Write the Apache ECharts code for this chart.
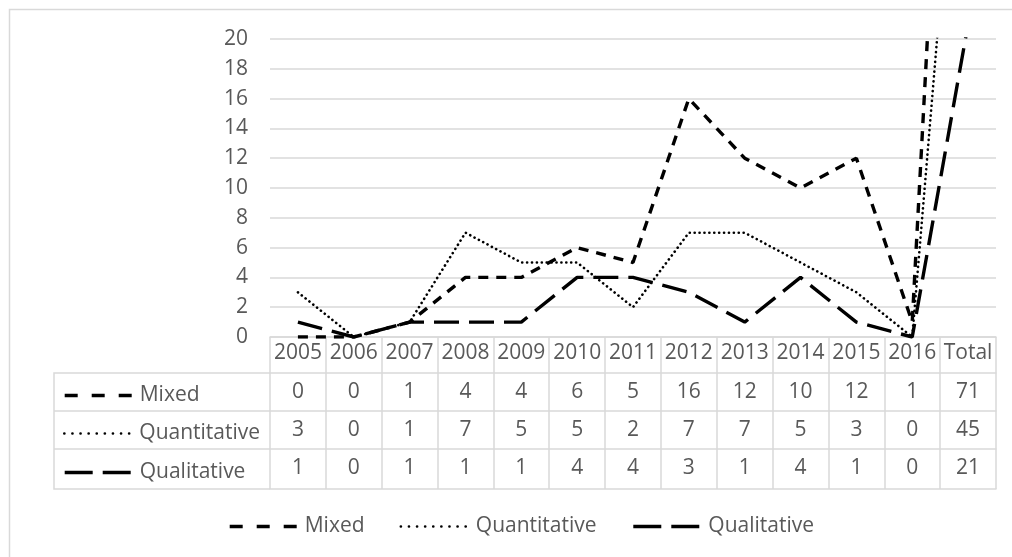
<!DOCTYPE html>
<html>
<head>
<meta charset="utf-8">
<script src="https://cdn.jsdelivr.net/npm/echarts@6/dist/echarts.min.js"></script>
<style>
html,body{margin:0;padding:0;background:#fff;}
#chart{width:1012px;height:557px;}
</style>
</head>
<body>
<div id="chart"></div>
<script>
const categories = ['2005','2006','2007','2008','2009','2010','2011','2012','2013','2014','2015','2016','Total'];
const seriesNames = ['Mixed','Quantitative','Qualitative'];
const mixed = [0,0,1,4,4,6,5,16,12,10,12,1,71];
const quantitative = [3,0,1,7,5,5,2,7,7,5,3,0,45];
const qualitative = [1,0,1,1,1,4,4,3,1,4,1,0,21];
const yMin = 0, yMax = 20, yStep = 2;

const W = 1012, H = 557;
const GL = 270, GR = 996, GT = 39, GB = 337;
const ROW = [337, 373, 411, 449, 489];
const TABLE_LEFT = 54;
const TXT = '#595959', LINE = '#d9d9d9';
const FONT = 'Open Sans';
const FS = 21;

const styles = [
  {type:[10,8], width:3.4, cap:'butt'},
  {type:[0.1,4.8], width:2.6, cap:'round'},
  {type:[25,10], width:3.4, cap:'butt'}
];
const legendStyles = [
  {type:[13,14], width:3.4, cap:'butt'},
  {type:[0.1,8], width:2.6, cap:'round'},
  {type:[28,10], width:3.4, cap:'butt'}
];
const values = [mixed, quantitative, qualitative];

const chart = echarts.init(document.getElementById('chart'), null, {renderer:'canvas'});

const xAxes = [{
  type:'category', data:categories, gridIndex:0, position:'bottom',
  boundaryGap:true,
  axisLine:{show:true, lineStyle:{color:LINE, width:1.5}},
  axisTick:{show:true, interval:0, length:ROW[4]-ROW[0], lineStyle:{color:LINE, width:1.5}},
  axisLabel:{interval:0, color:TXT, fontFamily:FONT, fontSize:FS, margin:6}
}];
values.forEach((arr, k) => {
  xAxes.push({
    type:'category', data:categories, gridIndex:0, position:'bottom',
    offset: ROW[k+1]-ROW[0],
    axisLine:{show:true, lineStyle:{color:LINE, width:1.5}},
    axisTick:{show:false},
    axisLabel:{interval:0, color:TXT, fontFamily:FONT, fontSize:FS, margin:9,
      formatter:(v, i) => String(arr[i])}
  });
});
xAxes.push({
  type:'category', data:categories, gridIndex:0, position:'bottom',
  offset: ROW[4]-ROW[0],
  axisLine:{show:true, lineStyle:{color:LINE, width:1.5}},
  axisTick:{show:false}, axisLabel:{show:false}
});

const series = seriesNames.map((n, k) => ({
  name:n, type:'line', xAxisIndex:0, yAxisIndex:0,
  data:values[k], symbol:'none', showSymbol:false, clip:true,
  lineStyle:{color:'#000', width:styles[k].width, type:styles[k].type, cap:styles[k].cap},
  itemStyle:{color:'#000'},
  animation:false
}));

const legendData = seriesNames.map((n, k) => ({
  name:n,
  lineStyle:{color:'#000', width:legendStyles[k].width, type:legendStyles[k].type, cap:legendStyles[k].cap}
}));

const legendBase = {
  itemWidth:67, itemHeight:14, padding:0,
  itemStyle:{opacity:0},
  textStyle:{color:TXT, fontFamily:FONT, fontSize:FS, lineHeight:14, padding:[0,0,0,3]},
  selectedMode:false
};

const legends = [
  Object.assign({}, legendBase, {data:legendData, orient:'horizontal', left:228, top:516, itemGap:35})
];
legendData.forEach((d, k) => {
  legends.push(Object.assign({}, legendBase, {
    data:[d], orient:'horizontal', left:63, top:(ROW[k+1]+ROW[k+2])/2-7
  }));
});

const graphics = [
  {type:'rect', shape:{x:9.5, y:9.5, width:1100, height:700}, style:{fill:'none', stroke:LINE, lineWidth:1.5}, silent:true},
  {type:'polyline', shape:{points:[[GL, ROW[1]],[TABLE_LEFT, ROW[1]],[TABLE_LEFT, ROW[4]],[GL, ROW[4]]]}, style:{fill:'none', stroke:LINE, lineWidth:1.5}, silent:true},
  {type:'line', shape:{x1:TABLE_LEFT, y1:ROW[2], x2:GL, y2:ROW[2]}, style:{stroke:LINE, lineWidth:1.5}, silent:true},
  {type:'line', shape:{x1:TABLE_LEFT, y1:ROW[3], x2:GL, y2:ROW[3]}, style:{stroke:LINE, lineWidth:1.5}, silent:true}
];

chart.setOption({
  animation:false,
  backgroundColor:'#fff',
  grid:{left:GL, right:W-GR, top:GT, bottom:H-GB, containLabel:false},
  xAxis:xAxes,
  yAxis:{type:'value', min:yMin, max:yMax, interval:yStep,
    axisLine:{show:false}, axisTick:{show:false},
    splitLine:{lineStyle:{color:LINE, width:1.5}},
    axisLabel:{color:TXT, fontFamily:FONT, fontSize:FS, margin:22}},
  legend:legends,
  graphic:graphics,
  series:series
});
</script>
</body>
</html>
